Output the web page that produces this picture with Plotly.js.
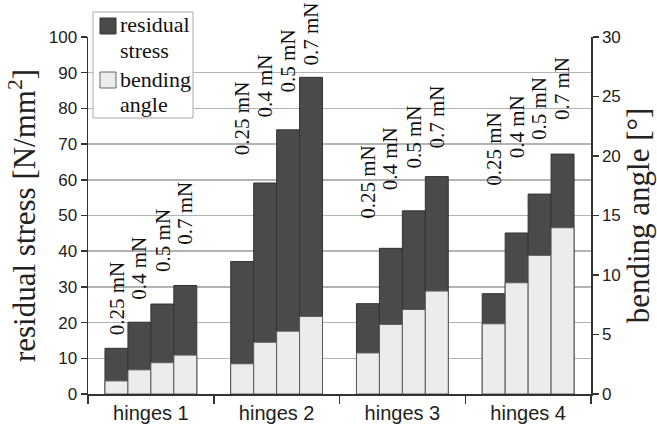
<!DOCTYPE html>
<html>
<head>
<meta charset="utf-8">
<script src="https://cdn.plot.ly/plotly-3.0.1.min.js"></script>
<style>html,body{margin:0;padding:0;background:#fff;}#chart{width:657px;height:427px;}</style>
</head>
<body>
<div id="chart"></div>
<script>
// ---- data ----
var categories = ['hinges 1', 'hinges 2', 'hinges 3', 'hinges 4'];
var forces = ['0.25 mN', '0.4 mN', '0.5 mN', '0.7 mN'];
// residual stress [N/mm^2] per force, across hinges 1..4
var stress025 = [12.8, 37.1, 25.3, 28.1];
var stress04  = [20.1, 59.1, 40.8, 45.1];
var stress05  = [25.2, 74.0, 51.3, 56.0];
var stress07  = [30.4, 88.7, 60.9, 67.2];
// bending angle [deg] per force, across hinges 1..4
var angle025 = [1.10, 2.54, 3.45, 5.90];
var angle04  = [2.03, 4.35, 5.85, 9.35];
var angle05  = [2.63, 5.28, 7.10, 11.65];
var angle07  = [3.27, 6.52, 8.65, 13.97];
// heights (stress units) where the rotated force labels start
var label025 = [16.0, 66.4, 48.5, 57.7];
var label04  = [25.8, 76.8, 56.6, 65.5];
var label05  = [33.6, 83.8, 62.7, 70.6];
var label07  = [41.2, 91.3, 68.3, 76.2];

var stressSets = [stress025, stress04, stress05, stress07];
var angleSets = [angle025, angle04, angle05, angle07];
var labelSets = [label025, label04, label05, label07];

// ---- styling ----
var DARK = '#4a4a4a', LIGHT = '#ececec', EDGE = '#5a5a5a';
var SERIF = 'Liberation Serif, Times New Roman, serif';
var SANS = 'Liberation Sans, Arial, sans-serif';
var W = 657, H = 427, ML = 88, MR = 66, MT = 37, MB = 33;
var PW = W - ML - MR, PH = H - MT - MB;
function px(x) { return (x - ML) / PW; }
function py(y) { return (H - MB - y) / PH; }
var BARGAP = 0.27;

var traces = [];
forces.forEach(function (f, i) {
  traces.push({
    type: 'bar', x: categories, y: stressSets[i], name: 'residual stress',
    offsetgroup: 'g' + i, yaxis: 'y', showlegend: false,
    marker: {color: DARK, line: {color: '#333', width: 1}},
    hoverinfo: 'skip'
  });
});
forces.forEach(function (f, i) {
  traces.push({
    type: 'bar', x: categories, y: angleSets[i], name: 'bending angle',
    offsetgroup: 'g' + i, yaxis: 'y2', showlegend: false,
    marker: {color: LIGHT, line: {color: EDGE, width: 1}},
    hoverinfo: 'skip'
  });
});

// force labels above bars
var annotations = [];
var slot = (1 - BARGAP) / forces.length;
forces.forEach(function (f, i) {
  categories.forEach(function (c, j) {
    annotations.push({
      x: j - (1 - BARGAP) / 2 + slot * (i + 0.5), xref: 'x',
      y: labelSets[i][j], yref: 'y',
      text: f, textangle: -90, showarrow: false,
      xanchor: 'center', yanchor: 'bottom',
      font: {family: SERIF, size: 21, color: '#111'}
    });
  });
});

// legend (drawn manually)
var legendText = [
  ['residual', 24.6], ['stress', 50.6], ['bending', 79.6], ['angle', 104.6]
];
legendText.forEach(function (t) {
  annotations.push({
    x: px(119), xref: 'paper', y: py(t[1]), yref: 'paper',
    text: t[0], showarrow: false, xanchor: 'left', yanchor: 'middle',
    font: {family: SERIF, size: 22, color: '#111'}, borderpad: 0
  });
});
var shapes = [
  {type: 'rect', xref: 'paper', yref: 'paper', x0: px(93), x1: px(193), y0: py(118), y1: py(12),
   fillcolor: '#fff', line: {color: '#aaa', width: 1}, layer: 'above'},
  {type: 'rect', xref: 'paper', yref: 'paper', x0: px(100), x1: px(116), y0: py(34), y1: py(18),
   fillcolor: DARK, line: {color: '#333', width: 1}, layer: 'above'},
  {type: 'rect', xref: 'paper', yref: 'paper', x0: px(100), x1: px(116), y0: py(88), y1: py(72),
   fillcolor: LIGHT, line: {color: '#666', width: 1}, layer: 'above'}
];

var layout = {
  width: W, height: H,
  margin: {l: ML, r: MR, t: MT, b: MB, pad: 0},
  paper_bgcolor: '#fff', plot_bgcolor: '#fff',
  barmode: 'group', bargap: BARGAP, bargroupgap: 0,
  showlegend: false,
  xaxis: {
    type: 'category', showline: true, linecolor: '#333', linewidth: 1.5,
    ticks: 'outside', tickson: 'boundaries', ticklen: 8, tickcolor: '#333', tickwidth: 1.5,
    showgrid: false, tickfont: {family: SANS, size: 20, color: '#222'}
  },
  yaxis: {
    range: [0, 100], dtick: 10, showline: true, linecolor: '#333', linewidth: 1.5,
    ticks: 'outside', ticklen: 6, tickcolor: '#333', tickwidth: 1.5,
    showgrid: true, gridcolor: '#b3b3b3', gridwidth: 1.5, zeroline: false,
    tickfont: {family: SANS, size: 17, color: '#222'},
    title: {text: 'residual stress [N/mm<sup>2</sup>]', font: {family: SERIF, size: 31, color: '#222'}, standoff: 4}
  },
  yaxis2: {
    range: [0, 30], dtick: 5, overlaying: 'y', side: 'right',
    showline: true, linecolor: '#333', linewidth: 1.5,
    ticks: 'outside', ticklen: 6, tickcolor: '#333', tickwidth: 1.5,
    showgrid: false, zeroline: false,
    tickfont: {family: SANS, size: 17, color: '#222'},
    title: {text: 'bending angle [°]', font: {family: SERIF, size: 31, color: '#222'}, standoff: 6}
  },
  annotations: annotations,
  shapes: shapes
};

Plotly.newPlot('chart', traces, layout, {displayModeBar: false, staticPlot: true});
</script>
</body>
</html>
